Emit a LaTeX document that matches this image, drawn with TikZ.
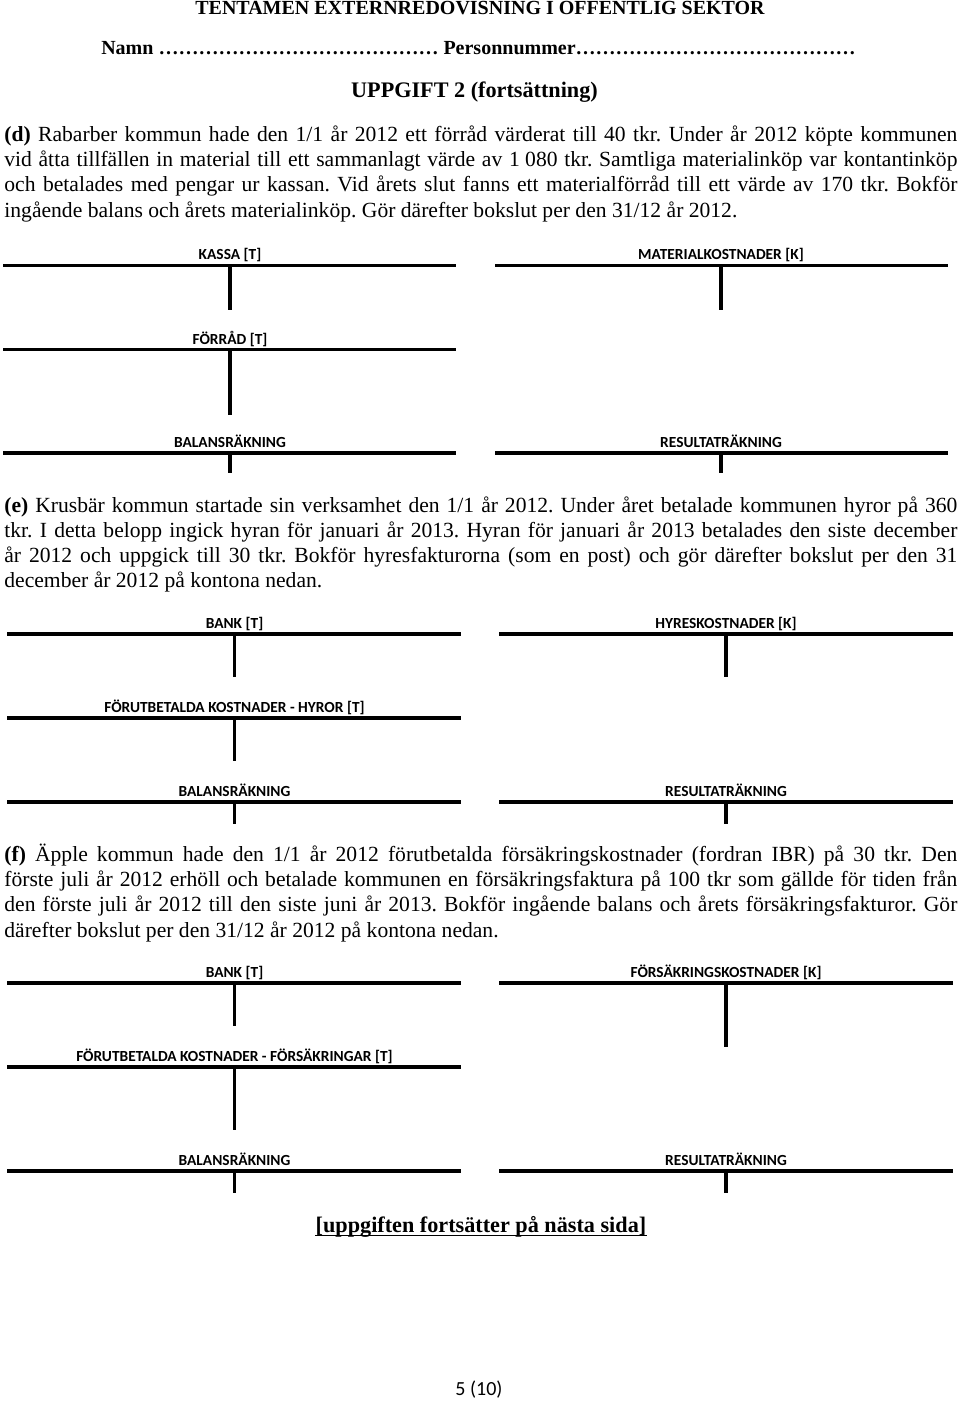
\documentclass[tikz,border=0pt]{standalone}
\usepackage{fontspec}
\setmainfont{Liberation Serif}
\newfontfamily\calibri{Carlito}
\frenchspacing
\newcommand\jline[1]{\makebox[\linewidth][s]{#1}}
\newcommand\tacct[8]{%
  \coordinate (#1-l) at (#2,#6);
  \coordinate (#1-r) at (#3,#6);
  \coordinate (#1-t) at (#4,#6);
  \coordinate (#1-b) at (#4,#7);
  \node[lbl] (#1-lab) at (#4,#5) {#8};
  \draw[tline] (#1-l) -- (#1-r);
  \draw[tline] (#1-t) -- (#1-b);
}
\begin{document}
\begin{tikzpicture}[x=0.5pt,y=-0.5pt,
  tline/.style={line width=1.8pt, black},
  lbl/.style={font=\calibri\bfseries\fontsize{7.7pt}{9pt}\selectfont, inner sep=0pt, anchor=base},
  para/.style={inner sep=0pt, anchor=base west},
  head/.style={font=\bfseries\fontsize{10pt}{12pt}\selectfont, inner sep=0pt, anchor=base},
  bighead/.style={font=\bfseries\fontsize{11.1pt}{13pt}\selectfont, inner sep=0pt, anchor=base}]
\fill[white] (0,0) rectangle (960,1401);
\useasboundingbox (0,0) rectangle (960,1401);

% header
\node[head] (title) at (480,14.5) {TENTAMEN EXTERNREDOVISNING I OFFENTLIG SEKTOR};
\node[head] (namn) at (478.5,54.5) {Namn \foreach\i in {1,...,14}{…} Personnummer\foreach\i in {1,...,14}{…}};
\node[bighead] (uppg) at (474.5,98) {UPPGIFT 2 (fortsättning)};

% (d)
\node[para] (pd) at (4,141.5) {\parbox[t]{476.5pt}{\fontsize{10.8pt}{12.6pt}\selectfont
\jline{\textbf{(d)} Rabarber kommun hade den 1/1 år 2012 ett förråd värderat till 40 tkr. Under år 2012 köpte kommunen}\\
\jline{vid åtta tillfällen in material till ett sammanlagt värde av \mbox{1 080} tkr. Samtliga materialinköp var kontantinköp}\\
\jline{och betalades med pengar ur kassan. Vid årets slut fanns ett materialförråd till ett värde av 170 tkr. Bokför}\\
ingående balans och årets materialinköp. Gör därefter bokslut per den 31/12 år 2012.}};

\tacct{kassa}{3}{456}{230}{260}{265.5}{310}{KASSA [T]}
\tacct{matk}{495}{948}{721}{260}{265.5}{310}{MATERIALKOSTNADER [K]}
\tacct{forrad}{3}{456}{230}{344}{349.5}{415}{FÖRRÅD [T]}
\tacct{brd}{3}{456}{230}{447}{453}{473}{BALANSRÄKNING}
\tacct{rrd}{495}{948}{721}{447}{453}{473}{RESULTATRÄKNING}

% (e)
\node[para] (pe) at (4,512.5) {\parbox[t]{476.5pt}{\fontsize{10.8pt}{12.5pt}\selectfont
\jline{\textbf{(e)} Krusbär kommun startade sin verksamhet den 1/1 år 2012. Under året betalade kommunen hyror på 360}\\
\jline{tkr. I detta belopp ingick hyran för januari år 2013. Hyran för januari år 2013 betalades den siste december}\\
\jline{år 2012 och uppgick till 30 tkr. Bokför hyresfakturorna (som en post) och gör därefter bokslut per den 31}\\
december år 2012 på kontona nedan.}};

\tacct{banke}{7}{461}{234.5}{628}{634}{677}{BANK [T]}
\tacct{hyrk}{499}{953}{726}{628}{634}{677}{HYRESKOSTNADER [K]}
\tacct{fkh}{7}{461}{234.5}{712}{718}{761}{FÖRUTBETALDA KOSTNADER - HYROR [T]}
\tacct{bre}{7}{461}{234.5}{796}{802}{824}{BALANSRÄKNING}
\tacct{rre}{499}{953}{726}{796}{802}{824}{RESULTATRÄKNING}

% (f)
\node[para] (pf) at (4,861.5) {\parbox[t]{476.5pt}{\fontsize{10.8pt}{12.6pt}\selectfont
\jline{\textbf{(f)} Äpple kommun hade den 1/1 år 2012 förutbetalda försäkringskostnader (fordran IBR) på 30 tkr. Den}\\
\jline{förste juli år 2012 erhöll och betalade kommunen en försäkringsfaktura på 100 tkr som gällde för tiden från}\\
\jline{den förste juli år 2012 till den siste juni år 2013. Bokför ingående balans och årets försäkringsfakturor. Gör}\\
därefter bokslut per den 31/12 år 2012 på kontona nedan.}};

\tacct{bankf}{7}{461}{234.5}{977}{983}{1026}{BANK [T]}
\tacct{fsk}{499}{953}{726}{977}{983}{1047}{FÖRSÄKRINGSKOSTNADER [K]}
\tacct{fkf}{7}{461}{234.5}{1061}{1067}{1130}{FÖRUTBETALDA KOSTNADER - FÖRSÄKRINGAR [T]}
\tacct{brf}{7}{461}{234.5}{1165}{1171}{1193}{BALANSRÄKNING}
\tacct{rrf}{499}{953}{726}{1165}{1171}{1193}{RESULTATRÄKNING}

% footer
\node[bighead] (foot) at (481,1232) {[uppgiften fortsätter på nästa sida]};
\draw[line width=0.6pt] ([yshift=-1.6pt]foot.base west) -- ([yshift=-1.6pt]foot.base east);
\node[font=\calibri\fontsize{10pt}{12pt}\selectfont, inner sep=0pt, anchor=base] (page) at (479,1395) {5 (10)};
\end{tikzpicture}
\end{document}
